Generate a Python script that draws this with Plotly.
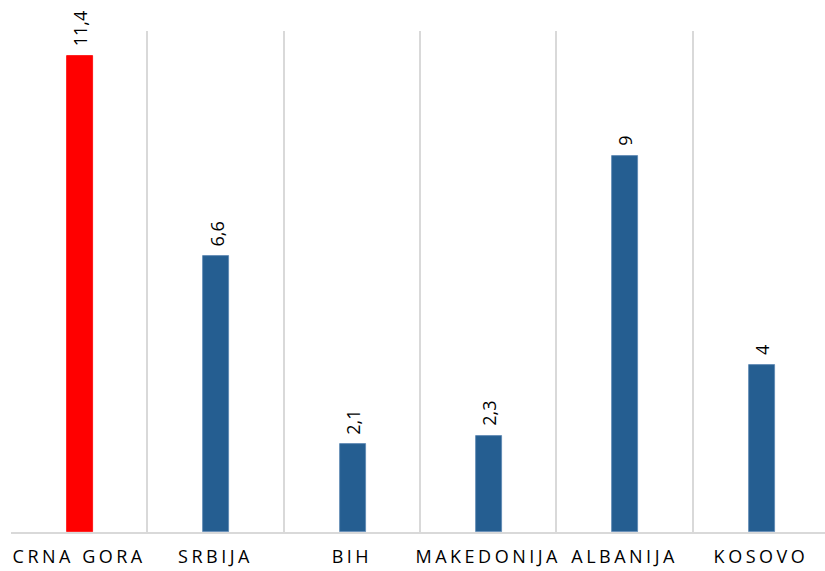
import plotly.graph_objects as go

categories = ["CRNA GORA", "SRBIJA", "BIH", "MAKEDONIJA", "ALBANIJA", "KOSOVO"]
values = [11.4, 6.6, 2.1, 2.3, 9, 4]
value_labels = ["11,4", "6,6", "2,1", "2,3", "9", "4"]
bar_colors = ["#FF0000", "#255E91", "#255E91", "#255E91", "#255E91", "#255E91"]
edge_colors = ["#FF0000", "#5b86b3", "#5b86b3", "#5b86b3", "#5b86b3", "#5b86b3"]

fig = go.Figure()
fig.add_trace(go.Bar(
    x=categories, y=values, width=0.19, offset=-0.09,
    marker=dict(color=bar_colors, line=dict(color=edge_colors, width=0.8)),
    hoverinfo="skip",
))

for c, v, t in zip(categories, values, value_labels):
    fig.add_annotation(x=c, y=v, text=t, textangle=-90, showarrow=False,
                       xanchor="center", yanchor="bottom", yshift=8, xshift=1,
                       font=dict(family="Open Sans", size=18, color="#000000"))

fig.update_layout(
    width=825, height=571,
    margin=dict(l=11, r=0, t=31, b=39, autoexpand=False),
    paper_bgcolor="white", plot_bgcolor="white",
    showlegend=False,
    bargap=0,
    xaxis=dict(
        type="category", range=[-0.5, 5.47], automargin=False,
        tickson="boundaries", showgrid=True, gridcolor="#d9d9d9", gridwidth=1.5,
        ticks="", showline=True, linecolor="#d9d9d9", linewidth=1.5,
        tickfont=dict(family="Open Sans", size=18, color="#000000"),
        ticklabelstandoff=8,
    ),
    yaxis=dict(range=[0, 12], showgrid=False, showticklabels=False,
               zeroline=False, showline=False, automargin=False),
)

post = """
document.body.style.margin='0';
document.body.style.overflow='hidden';
document.querySelectorAll('.xtick text').forEach(function(t){
  t.style.letterSpacing='3.5px';
});
"""
fig.write_html("out.html", post_script=post, config={"displayModeBar": False})
